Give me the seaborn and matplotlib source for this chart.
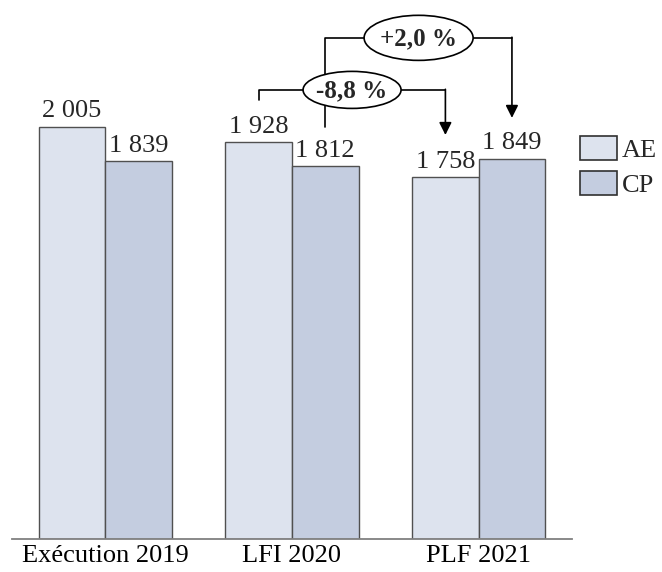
import matplotlib
matplotlib.use("Agg")
import matplotlib.pyplot as plt
from matplotlib.patches import Ellipse, Patch
import seaborn as sns
import pandas as pd

categories = ["Exécution 2019", "LFI 2020", "PLF 2021"]
ae_values = [2005, 1928, 1758]
cp_values = [1839, 1812, 1849]
series = ["AE", "CP"]
colors = ["#dde3ee", "#c4cde0"]

sns.set_style("white")
plt.rcParams["font.family"] = ["Liberation Serif", "DejaVu Serif"]

df = pd.DataFrame({
    "cat": categories * 2,
    "serie": [series[0]] * 3 + [series[1]] * 3,
    "val": ae_values + cp_values,
})

fig = plt.figure(figsize=(6.62, 5.72), dpi=100)
ax = fig.add_axes([12 / 662, 33 / 572, 560 / 662, 539 / 572])
W = 0.713
sns.barplot(data=df, x="cat", y="val", hue="serie", palette=colors, width=W,
            saturation=1, edgecolor="#505050", linewidth=1.0, ax=ax, legend=False)
ax.set_xlim(-0.5, 2.5)
ax.set_ylim(0, 2620)
ax.set_xlabel("")
ax.set_ylabel("")
ax.set_yticks([])
for s in ["left", "right", "top"]:
    ax.spines[s].set_visible(False)
ax.spines["bottom"].set_color("#808080")
ax.spines["bottom"].set_linewidth(1.3)
ax.tick_params(axis="x", length=0, pad=4.5, labelsize=19, colors="black")

fmt = lambda v: f"{v:,}".replace(",", " ")
for cont, vals in zip(ax.containers, [ae_values, cp_values]):
    ax.bar_label(cont, labels=[fmt(v) for v in vals], padding=3.0, fontsize=19)

q = W / 4
lw = 1.2
arrow = dict(arrowstyle="-|>,head_length=0.5,head_width=0.25",
             mutation_scale=15, color="black", lw=lw, shrinkA=0, shrinkB=0)

# bracket 1 : LFI AE -> PLF AE
x1a, x1b = 1 - q, 2 - q
y1 = 2183
ax.plot([x1a, x1a, x1b], [2134, y1, y1], color="black", lw=lw, zorder=3)
ax.annotate("", xy=(x1b, 1964), xytext=(x1b, y1 + 3), arrowprops=arrow, zorder=3)
# bracket 2 : LFI CP -> PLF CP
x2a, x2b = 1 + q, 2 + q
y2 = 2436
ax.plot([x2a, x2a, x2b], [2003, y2, y2], color="black", lw=lw, zorder=3)
ax.annotate("", xy=(x2b, 2047), xytext=(x2b, y2 + 3), arrowprops=arrow, zorder=3)

p1 = (ae_values[2] / ae_values[1] - 1) * 100
p2 = (cp_values[2] / cp_values[1] - 1) * 100
lab1 = f"{p1:.1f}".replace(".", ",") + " %"
lab2 = f"{p2:+.1f}".replace(".", ",") + " %"

for (cx, cy, ew, eh, lab) in [((x1a + x1b) / 2, y1, 0.525, 180, lab1),
                              ((x2a + x2b) / 2, y2, 0.584, 219, lab2)]:
    ax.add_patch(Ellipse((cx, cy), ew, eh, facecolor="white", edgecolor="black",
                         lw=lw, zorder=4))
    ax.text(cx, cy - 5, lab, ha="center", va="center", fontsize=18,
            fontweight="bold", zorder=5)

handles = [Patch(facecolor=c, edgecolor="#303030", lw=1.2) for c in colors]
fig.legend(handles, series, loc="upper left", bbox_to_anchor=(580 / 662, 1 - 136 / 572),
           frameon=False, borderpad=0, borderaxespad=0, fontsize=19,
           handlelength=1.4, handleheight=1.02, handletextpad=0.2, labelspacing=0.35)

fig.savefig("out.png", dpi=100)
